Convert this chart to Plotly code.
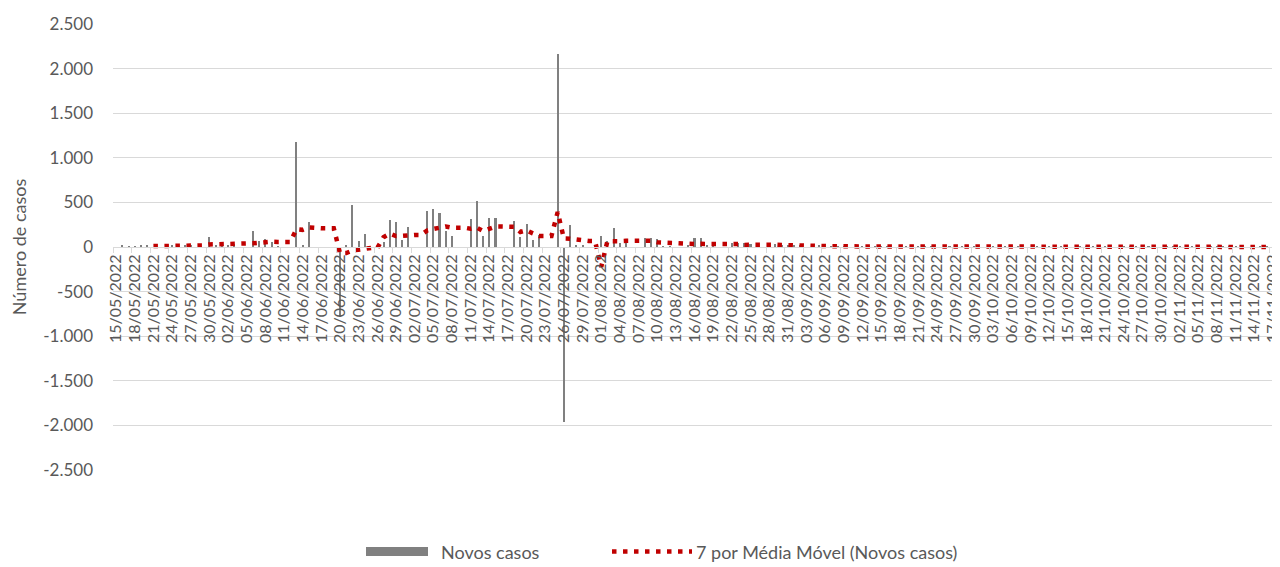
import pandas as pd
import plotly.graph_objects as go

# ---------------- data ----------------
start_date = "2022-05-15"
n_days = 187
dates = pd.date_range(start_date, periods=n_days, freq="D")
date_labels = [d.strftime("%d/%m/%Y") for d in dates]

# daily new cases, one row per week Sun..Sat
novos_casos = [
    0, 19, 11, 11, 15, 15, 0,
    0, 35, 25, 20, 20, 24, 0,
    0, 116, 25, 30, 20, 33, 0,
    0, 179, 67, 90, 52, 10, 0,
    0, 1180, 15, 280, 0, 0, 0,
    0, -780, 26, 470, 71, 142, 0,
    0, 60, 302, 283, 82, 220, 0,
    0, 403, 425, 384, 181, 125, 0,
    0, 313, 515, 125, 323, 330, 0,
    0, 291, 114, 255, 82, 129, 0,
    0, 2160, -1960, 242, 19, 15, 0,
    0, 123, 65, 209, 45, 40, 0,
    0, 97, 97, 90, 10, 8, 0,
    0, 28, 100, 100, 16, 15, 0,
    0, 50, 45, 40, 35, 30, 0,
    0, 30, 20, 20, 15, 15, 0,
    0, 15, 10, 10, 8, 7, 0,
    0, 6, 5, 4, 5, 4, 0,
    0, 5, 3, 4, 3, 3, 0,
    0, 4, 3, 2, 3, 2, 0,
    0, 3, 2, 2, 3, 2, 0,
    0, 3, 2, 1, 2, 2, 0,
    0, 2, 2, 1, 2, 1, 0,
    0, 2, 1, 2, 1, 1, 0,
    0, 2, 1, 1, 1, 1, 0,
    0, 1, 1, 1, 1, 1, 0,
    0, 1, 1, 1, 0,
]

ma_window = 7
media_movel = pd.Series(novos_casos, dtype=float).rolling(ma_window).mean()

tick_step = 3
tick_dates = list(dates[::tick_step])
tick_text = date_labels[::tick_step]

y_tick_vals = [-2500, -2000, -1500, -1000, -500, 0, 500, 1000, 1500, 2000, 2500]
y_tick_text = ["-2.500", "-2.000", "-1.500", "-1.000", "-500", "0",
               "500", "1.000", "1.500", "2.000", "2.500"]

serie_barras = "Novos casos"
serie_media = "7 por Média Móvel (Novos casos)"
y_title = "Número de casos"

# ---------------- style ----------------
FONT = "Lato, 'Open Sans', sans-serif"
TXT = "#595959"
GRID = "#D9D9D9"
BAR = "#808080"
RED = "#C00000"

OFF = 8                      # page body margin of the html file
PAGE_W, PAGE_H = 1280, 567
W, H = PAGE_W - OFF, PAGE_H - OFF
# plot area in page pixels
P_LEFT, P_RIGHT, P_TOP, P_BOTTOM = 113, 1276, 24, 470
ML, MT = P_LEFT - OFF, P_TOP - OFF
MR, MB = W - (P_RIGHT - OFF), H - (P_BOTTOM - OFF)
PW, PH = P_RIGHT - P_LEFT, P_BOTTOM - P_TOP

def px_x(px):
    return (px - P_LEFT) / PW

def px_y(py):
    return (P_BOTTOM - py) / PH

half_day = pd.Timedelta(hours=12)
bar_width_ms = 0.33 * 86400000

fig = go.Figure()
fig.add_trace(go.Bar(
    x=dates, y=novos_casos, name=serie_barras,
    marker=dict(color=BAR, line=dict(width=0)),
    width=bar_width_ms, showlegend=False,
))
fig.add_trace(go.Scatter(
    x=dates, y=media_movel, name=serie_media, mode="lines",
    line=dict(color=RED, width=4.5, dash="4.5px,6.5px"),
    showlegend=False, connectgaps=False,
))

fig.update_layout(
    width=W, height=H,
    margin=dict(l=ML, r=MR, t=MT, b=MB, autoexpand=False),
    paper_bgcolor="white", plot_bgcolor="white",
    font=dict(family=FONT, color=TXT, size=17),
    bargap=0,
    showlegend=False,
)

fig.update_xaxes(
    type="date",
    range=[dates[0] - half_day, dates[-1] + half_day],
    anchor="free", position=0.5,
    showline=True, linecolor=GRID, linewidth=1,
    showgrid=False, zeroline=False,
    tickmode="array", tickvals=tick_dates, ticktext=tick_text,
    tickangle=-90, ticks="",
    ticklabeloverflow="allow",
    tickfont=dict(family=FONT, size=16, color=TXT),
    minor=dict(tickmode="array",
               tickvals=[d - half_day for d in dates[::tick_step]] + [dates[-1] + half_day],
               ticks="outside", ticklen=5, tickcolor=GRID, tickwidth=1, showgrid=False),
    automargin=False,
)
fig.update_yaxes(
    range=[-2500, 2500],
    tickmode="array", tickvals=y_tick_vals, ticktext=y_tick_text,
    showgrid=True, gridcolor=GRID, gridwidth=1,
    zeroline=False, showline=False, ticks="",
    ticklabelstandoff=19,
    tickfont=dict(family=FONT, size=17, color=TXT),
    title=dict(text=y_title, font=dict(family=FONT, size=18, color=TXT), standoff=12),
    automargin=False,
)

# legend drawn below the plot
leg_y = 551.5
fig.add_shape(type="rect", xref="paper", yref="paper",
              x0=px_x(366), x1=px_x(428), y0=px_y(556), y1=px_y(547),
              fillcolor=BAR, line=dict(width=0))
fig.add_annotation(xref="paper", yref="paper", x=px_x(439), y=px_y(leg_y),
                   text=serie_barras, showarrow=False, xanchor="left", yanchor="middle",
                   font=dict(family=FONT, size=18, color=TXT))
fig.add_shape(type="line", xref="paper", yref="paper",
              x0=px_x(612), x1=px_x(692), y0=px_y(leg_y), y1=px_y(leg_y),
              line=dict(color=RED, width=4.5, dash="4.5px,6.5px"))
fig.add_annotation(xref="paper", yref="paper", x=px_x(694), y=px_y(leg_y),
                   text=serie_media, showarrow=False, xanchor="left", yanchor="middle",
                   font=dict(family=FONT, size=18, color=TXT))

fig.write_html("out.html")
